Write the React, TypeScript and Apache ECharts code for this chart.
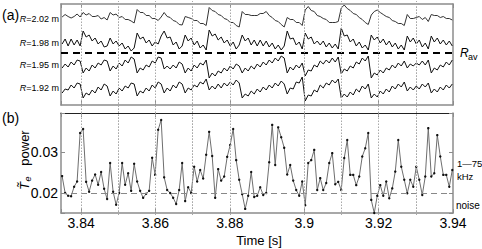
import React, { useEffect, useRef } from "react";
import * as echarts from "echarts";

const FONT = '"Liberation Sans", Arial, Helvetica, sans-serif';

// ---- time axis ----
const T0 = 3.8349; // first sample [s]
const DT = 0.000807; // sample step [s]
const X_MIN = 3.8346;
const X_MAX = 3.94;
const xTickLabels = ["3.84", "3.86", "3.88", "3.9", "3.92", "3.94"];

// sawtooth crash times (dotted lines)
const crashTimes = [
  3.8405, 3.8478, 3.855, 3.862, 3.8679, 3.8744, 3.8835, 3.8951, 3.9005, 3.9096,
  3.9182, 3.9276, 3.9344,
];

// ---- panel (a): ECE traces, arbitrary offset units ----
const radiusLabels = ["2.02", "1.98", "1.95", "1.92"];
const TOP_MIN = 0;
const TOP_MAX = 101;
const RAV_LEVEL = 52;

const trace202 = [
  88, 90.5, 88.5, 87, 88.5, 91, 88,
  92.5, 90, 91.5, 88.5, 88.5, 89.5, 86, 87.5, 85,
  92.5, 90, 91, 87.5, 88.5, 85.5, 85.5, 84, 82,
  95.5, 92.5, 92.5, 89.5, 89.5, 86.5, 86.5, 84.5, 88,
  92.5, 88.5, 87.5, 84.5, 83.5, 80.5, 80,
  88.5, 87.5, 86.5, 84.5, 84.5, 81.5, 81.5, 79.5,
  97.5, 94.5, 93.5, 90.5, 89.5, 86.5, 85.5, 82.5, 82.5, 79.5, 78,
  93.5, 90.5, 90.5, 89.5, 89.5, 89.5, 91.5, 91.5, 93.5, 89.5, 87.5, 84.5, 83.5, 80.5, 78,
  87.5, 85.5, 85.5, 82.5, 82.5, 79.5,
  95, 98.5, 94.5, 93.5, 89.5, 88.5, 86.5, 85.5, 82.5, 82.5, 82.5, 83.5,
  97, 100, 96.5, 94.5, 91.5, 90.5, 87.5, 85.5, 82.5, 80.5,
  90, 93.5, 95, 92.5, 90.5, 88.5, 87.5, 84.5, 83.5, 81.5, 81.5, 79.5,
  90.5, 86.5, 86.5, 87.5, 88.5, 85.5, 87.5, 83.5,
  90.5, 89.5, 89.5, 87.5, 88.5, 86.5, 86.5, 85,
];

const trace198 = [
  61, 66, 59, 66, 60, 65, 59,
  74, 68, 70, 64, 67, 61, 64, 58, 59,
  67, 61, 64, 59, 62, 56, 59, 54, 57,
  72, 66, 68, 62, 65, 59, 63, 61, 69,
  74, 67, 68, 60, 63, 56, 59,
  70, 64, 67, 60, 64, 57, 60, 55,
  75, 69, 71, 65, 68, 62, 65, 59, 63, 56, 60,
  70, 64, 67, 60, 65, 59, 65, 59, 64, 58, 62, 56, 60, 55, 59,
  74, 66, 67, 60, 63, 56,
  72, 66, 68, 61, 64, 60, 64, 58, 62, 57, 61, 56,
  77, 69, 70, 63, 66, 59, 63, 57, 60, 55,
  70, 65, 68, 62, 66, 60, 64, 58, 62, 56, 60, 55,
  69, 63, 67, 61, 65, 58, 62, 56,
  69, 63, 67, 61, 65, 60, 64, 59,
];

const trace195 = [
  37, 41, 38, 43, 40, 45, 44,
  32, 37, 34, 40, 37, 42, 40, 45, 44,
  34, 39, 36, 42, 39, 45, 42, 48, 46,
  32, 37, 35, 40, 38, 44, 42, 48, 47,
  36, 39, 36, 40, 37, 43, 41,
  32, 37, 34, 40, 37, 42, 40, 45,
  27, 32, 29, 34, 32, 37, 34, 39, 36, 41, 39,
  32, 37, 34, 39, 36, 41, 38, 43, 40, 45, 42, 47, 44, 49, 47,
  32, 38, 35, 40, 37, 42,
  29, 35, 34, 40, 38, 44, 41, 45, 42, 47, 43, 48,
  31, 36, 34, 39, 37, 43, 41, 47, 44, 49,
  27, 32, 30, 35, 32, 37, 35, 40, 37, 42, 39, 44,
  37, 41, 39, 42, 40, 44, 40, 45,
  32, 37, 35, 40, 38, 43, 40, 45,
];

const trace192 = [
  12, 16, 15, 20, 17, 22, 21,
  7, 12, 10, 15, 12, 18, 15, 21, 19,
  9, 14, 11, 17, 14, 19, 17, 22, 21,
  9, 14, 12, 17, 14, 20, 17, 23, 21,
  12, 17, 14, 20, 17, 23, 21,
  12, 17, 15, 20, 18, 23, 21, 26,
  15, 19, 16, 21, 17, 22, 19, 23, 20, 25, 22,
  7, 11, 9, 14, 11, 16, 13, 18, 15, 20, 17, 22, 19, 24, 21,
  11, 17, 16, 23, 22, 28,
  4, 10, 9, 15, 13, 20, 17, 22, 20, 25, 22, 26,
  7, 11, 8, 13, 10, 16, 13, 19, 16, 21,
  7, 11, 8, 14, 11, 16, 13, 19, 16, 21, 18, 23,
  14, 18, 15, 19, 16, 21, 18, 22,
  12, 16, 13, 18, 15, 20, 17, 21,
];

// ---- panel (b): fluctuation power, 1-75 kHz ----
const POWER_MIN = 0.0151;
const POWER_MAX = 0.0395;
const powerTickLabels = ["0.02", "0.03"];
const NOISE_LEVEL = 0.0171;
const powerValues = [
  0.0241, 0.02, 0.0193, 0.0192, 0.0215, 0.0228, 0.0346, 0.0356, 0.0227, 0.0203,
  0.023, 0.0245, 0.022, 0.0251, 0.021, 0.0185, 0.0273, 0.0203, 0.0171, 0.02,
  0.0273, 0.022, 0.0248, 0.0205, 0.0271, 0.0228, 0.0205, 0.0188, 0.0198, 0.0205,
  0.0286, 0.0244, 0.0354, 0.0378, 0.0238, 0.0207, 0.02, 0.0188, 0.0173, 0.0207,
  0.0273, 0.018, 0.0214, 0.02, 0.0264, 0.0228, 0.0256, 0.0235, 0.0293, 0.0349,
  0.029, 0.0188, 0.0258, 0.023, 0.024, 0.0288, 0.0317, 0.0356, 0.028, 0.0232,
  0.0197, 0.0161, 0.0193, 0.0251, 0.019, 0.0193, 0.0214, 0.0195, 0.02, 0.0275,
  0.0366, 0.0268, 0.036, 0.0336, 0.031, 0.0245, 0.0268, 0.023, 0.0207, 0.0193,
  0.0228, 0.017, 0.0273, 0.028, 0.0305, 0.0207, 0.0236, 0.0207, 0.0224, 0.0273,
  0.0297, 0.0221, 0.0227, 0.0207, 0.0285, 0.0329, 0.0244, 0.0244, 0.0219, 0.024,
  0.0289, 0.0309, 0.0346, 0.0183, 0.0151, 0.0193, 0.0219, 0.0193, 0.0228, 0.0187,
  0.0211, 0.0252, 0.0329, 0.0264, 0.0232, 0.0199, 0.0232, 0.0215, 0.0264, 0.0232,
  0.0195, 0.024, 0.0358, 0.024, 0.0248, 0.0341, 0.0289, 0.0244, 0.0244, 0.0215,
  0.0256,
];

const toPairs = (vals: number[]) => vals.map((v, k) => [T0 + k * DT, v]);

const GRAY = "#8c8c8c";

const labelFrom = (labels: string[]) => (v: number) => {
  const hit = labels.find((s) => Math.abs(parseFloat(s) - v) < 1e-7);
  return hit ?? "";
};

function frameX(gridIndex: number, position: string, color: string, width: number, labels = false) {
  return {
    type: "value",
    gridIndex,
    min: X_MIN,
    max: X_MAX,
    splitNumber: 5,
    position,
    axisLine: { show: true, onZero: false, lineStyle: { color, width } },
    axisTick: { show: true, inside: true, length: 4, lineStyle: { color: GRAY, width: 1 } },
    axisLabel: labels
      ? {
          show: true,
          formatter: labelFrom(xTickLabels),
          fontSize: 14,
          fontFamily: FONT,
          color: "#000",
          margin: 3,
          showMinLabel: true,
          showMaxLabel: true,
        }
      : { show: false },
    splitLine: { show: false },
  };
}

function frameY(gridIndex: number, position: string, min: number, max: number, ticks: boolean, labels = false) {
  return {
    type: "value",
    gridIndex,
    min,
    max,
    splitNumber: 2,
    position,
    axisLine: { show: true, onZero: false, lineStyle: { color: GRAY, width: 1.5 } },
    axisTick: { show: ticks, inside: true, length: 4, lineStyle: { color: GRAY, width: 1 } },
    axisLabel: labels
      ? {
          show: true,
          formatter: labelFrom(powerTickLabels),
          fontSize: 14,
          fontFamily: FONT,
          color: "#000",
          margin: 3,
        }
      : { show: false },
    splitLine: { show: false },
  };
}

const topTraces = [trace202, trace198, trace195, trace192];
const rLabelY = [19, 43, 65, 88];

export default function App() {
  const ref = useRef<HTMLDivElement>(null);

  useEffect(() => {
    if (!ref.current) return;
    const chart = echarts.init(ref.current, undefined, { renderer: "svg" });

    const series: any[] = [];
    topTraces.forEach((tr, i) => {
      series.push({
        type: "line",
        xAxisIndex: 0,
        yAxisIndex: 0,
        data: toPairs(tr),
        showSymbol: false,
        symbol: "none",
        lineStyle: { color: i === 0 ? "#333" : "#111", width: 1 },
        silent: true,
        z: 3,
        markLine:
          i === 0
            ? {
                silent: true,
                symbol: ["none", "none"],
                label: { show: false },
                lineStyle: { color: "#000", width: 2.2, type: [7, 5] },
                data: [{ yAxis: RAV_LEVEL }],
              }
            : undefined,
      });
    });

    series.push({
      type: "line",
      xAxisIndex: 2,
      yAxisIndex: 2,
      data: toPairs(powerValues),
      symbol: "circle",
      symbolSize: 2.4,
      showSymbol: true,
      lineStyle: { color: "#6e6e6e", width: 1 },
      itemStyle: { color: "#111" },
      silent: true,
      z: 3,
      markLine: {
        silent: true,
        symbol: ["none", "none"],
        label: { show: false },
        lineStyle: { color: "#888", width: 1, type: [6, 4] },
        data: [{ yAxis: NOISE_LEVEL }],
      },
    });

    series.push({
      type: "line",
      xAxisIndex: 4,
      yAxisIndex: 4,
      data: [[X_MIN, 0]],
      showSymbol: false,
      symbol: "none",
      lineStyle: { opacity: 0 },
      silent: true,
      z: 1,
      markLine: {
        silent: true,
        symbol: ["none", "none"],
        label: { show: false },
        lineStyle: { color: "#a8a8a8", width: 1, type: [1.5, 1.5] },
        data: crashTimes.map((t) => ({ xAxis: t })),
      },
    });

    const graphic: any[] = [
      { type: "text", x: 2, y: 15, style: { text: "(a)", fontSize: 14, fontFamily: FONT, fill: "#000", verticalAlign: "middle" } },
      { type: "text", x: 2, y: 118, style: { text: "(b)", fontSize: 14, fontFamily: FONT, fill: "#000", verticalAlign: "middle" } },
      ...radiusLabels.map((r, i) => ({
        type: "text",
        x: 59,
        y: rLabelY[i],
        style: {
          text: `{i|R}=${r} m`,
          rich: { i: { fontStyle: "italic", fontSize: 9, fontFamily: FONT, fill: "#000" } },
          fontSize: 9,
          fontFamily: FONT,
          fill: "#000",
          align: "right",
          verticalAlign: "middle",
        },
      })),
      { type: "text", x: 460, y: 59, style: { text: "R", fontSize: 12, fontStyle: "italic", fontFamily: FONT, fill: "#000", verticalAlign: "bottom" } },
      { type: "text", x: 468, y: 61, style: { text: "av", fontSize: 9, fontFamily: FONT, fill: "#000", verticalAlign: "bottom" } },
      { type: "text", x: 457, y: 163, style: { text: "1—75", fontSize: 9.5, fontFamily: FONT, fill: "#000", verticalAlign: "middle" } },
      { type: "text", x: 457, y: 176, style: { text: "kHz", fontSize: 9.5, fontFamily: FONT, fill: "#000", verticalAlign: "middle" } },
      { type: "text", x: 456, y: 205, style: { text: "noise", fontSize: 10, fontFamily: FONT, fill: "#000", verticalAlign: "middle" } },
      { type: "text", x: 259, y: 240, style: { text: "Time [s]", fontSize: 13, fontFamily: FONT, fill: "#000", align: "center", verticalAlign: "middle" } },
      {
        type: "group",
        x: 24,
        y: 162,
        rotation: Math.PI / 2,
        children: [
          { type: "text", x: -24, y: 0, style: { text: "T\u0303", fontSize: 13, fontStyle: "italic", fontFamily: FONT, fill: "#000", align: "center", verticalAlign: "middle" } },
          { type: "text", x: -17, y: 4, style: { text: "e", fontSize: 9, fontStyle: "italic", fontFamily: FONT, fill: "#000", align: "center", verticalAlign: "middle" } },
          { type: "text", x: 14, y: 0, style: { text: "power", fontSize: 13, fontFamily: FONT, fill: "#000", align: "center", verticalAlign: "middle" } },
        ],
      },
    ];

    chart.setOption({
      animation: false,
      backgroundColor: "#fff",
      grid: [
        { left: 61, top: 4, width: 392, height: 101 },
        { left: 61, top: 113, width: 392, height: 100 },
        { left: 61, top: 1, width: 392, height: 214 },
      ],
      xAxis: [
        frameX(0, "bottom", GRAY, 1.5),
        frameX(0, "top", GRAY, 1.5),
        frameX(1, "bottom", GRAY, 1.5, true),
        frameX(1, "top", "#222", 1),
        { type: "value", gridIndex: 2, min: X_MIN, max: X_MAX, show: false },
      ],
      yAxis: [
        frameY(0, "left", TOP_MIN, TOP_MAX, false),
        frameY(0, "right", TOP_MIN, TOP_MAX, false),
        frameY(1, "left", POWER_MIN, POWER_MAX, true, true),
        frameY(1, "right", POWER_MIN, POWER_MAX, true),
        { type: "value", gridIndex: 2, min: 0, max: 1, show: false },
      ],
      series,
      graphic,
    });

    return () => chart.dispose();
  }, []);

  return (
    <div
      ref={ref}
      style={{ position: "fixed", left: 0, top: 0, width: 482, height: 249, background: "#fff" }}
    />
  );
}
